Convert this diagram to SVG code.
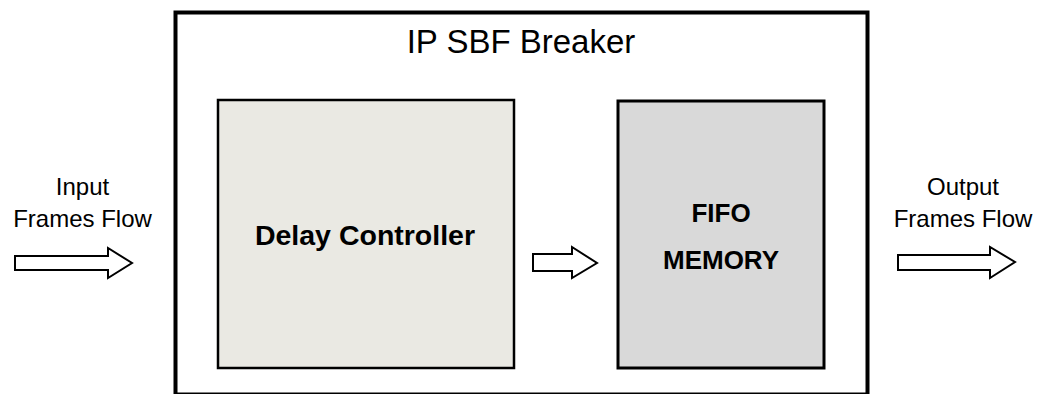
<svg xmlns="http://www.w3.org/2000/svg" width="1038" height="394" viewBox="0 0 1038 394">
<style>
.t{font-family:"Liberation Sans",Arial,sans-serif;fill:#000;text-anchor:middle}
.b{font-weight:bold}
.arr{fill:#fff;stroke:#000;stroke-width:2;stroke-linejoin:miter}
</style>
<rect width="1038" height="394" fill="#fff"/>
<g id="breaker">
<rect x="175.5" y="12.5" width="692" height="382" fill="#fff" stroke="#000" stroke-width="4"/>
<text class="t" x="521" y="53" font-size="33">IP SBF Breaker</text>
</g>
<g id="delay-controller">
<rect x="218" y="100" width="296" height="268" fill="#EAE9E3" stroke="#000" stroke-width="2.5"/>
<text class="t b" x="365" y="245" font-size="28.5">Delay Controller</text>
</g>
<g id="fifo-memory">
<rect x="618" y="101" width="206" height="267" fill="#D9D9D9" stroke="#000" stroke-width="3"/>
<text class="t b" x="721" y="222" font-size="26">FIFO</text>
<text class="t b" x="721" y="269" font-size="26">MEMORY</text>
</g>
<g id="input-label">
<text class="t" x="82.5" y="195" font-size="24">Input</text>
<text class="t" x="82.5" y="227" font-size="24">Frames Flow</text>
</g>
<g id="output-label">
<text class="t" x="963" y="195" font-size="24">Output</text>
<text class="t" x="963" y="227" font-size="24">Frames Flow</text>
</g>
<g id="connectors">
<polygon class="arr" points="15,256 108,256 108,248 132,263 108,278 108,270 15,270"/>
<polygon class="arr" points="533,254 572,254 572,247 597,263 572,278 572,271 533,271"/>
<polygon class="arr" points="898,255 990,255 990,247 1015,262 990,278 990,270 898,270"/>
</g>
</svg>
